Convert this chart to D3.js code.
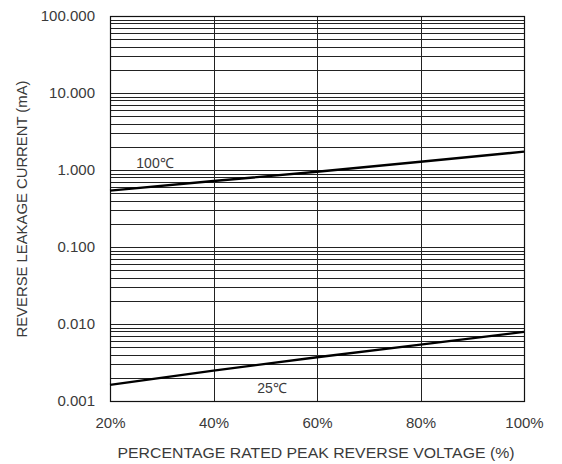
<!DOCTYPE html>
<html><head><meta charset="utf-8">
<script src="https://cdn.jsdelivr.net/npm/d3@7"></script>
<style>body{margin:0;background:#fff}svg{display:block}text{font-family:"Liberation Sans",Arial,sans-serif;fill:#3a3a3a}</style>
</head><body><svg id="c" width="562" height="464"></svg>
<script>
const xTicks = [20, 40, 60, 80, 100];
const xTickLabels = ["20%", "40%", "60%", "80%", "100%"];
const yTicks = [0.001, 0.01, 0.1, 1, 10, 100];
const yTickLabels = ["0.001", "0.010", "0.100", "1.000", "10.000", "100.000"];
const voltage = [20, 40, 60, 80, 100];
const current100C = [0.54, 0.72, 0.95, 1.28, 1.73];
const current25C = [0.00162, 0.00248, 0.0037, 0.0054, 0.0079];
const seriesLabels = ["100℃", "25℃"];
const xTitle = "PERCENTAGE RATED PEAK REVERSE VOLTAGE (%)";
const yTitle = "REVERSE LEAKAGE CURRENT (mA)";

const m = {l:110, r:38, t:16, b:63};
const W = 562, H = 464;
const svg = d3.select("#c");
const x = d3.scaleLinear().domain([20,100]).range([m.l, W-m.r]);
const y = d3.scaleLog().domain([0.001,100]).range([H-m.b, m.t]);

const g = svg.append("g");
const hLines = [];
for (let e=-3; e<2; e++) for (let k=1; k<=9; k++) hLines.push(k*Math.pow(10,e));
hLines.push(100);
g.selectAll(".h").data(hLines).join("line")
  .attr("x1", x(20)).attr("x2", x(100))
  .attr("y1", d=>Math.round(y(d))+0.5).attr("y2", d=>Math.round(y(d))+0.5)
  .attr("stroke","#222").attr("stroke-width",1);
g.selectAll(".v").data(xTicks).join("line")
  .attr("x1", d=>Math.round(x(d))+0.5).attr("x2", d=>Math.round(x(d))+0.5)
  .attr("y1", y(100)).attr("y2", y(0.001))
  .attr("stroke","#222").attr("stroke-width",1);
g.append("rect").attr("x",Math.round(x(20))+0.5).attr("y",Math.round(y(100))+0.5)
  .attr("width",Math.round(x(100))-Math.round(x(20))).attr("height",Math.round(y(0.001))-Math.round(y(100)))
  .attr("fill","none").attr("stroke","#111").attr("stroke-width",1.2);

const yAxis = d3.axisLeft(y).tickValues(yTicks).tickFormat((d,i)=>yTickLabels[i]).tickSize(0).tickPadding(15);
const ya = svg.append("g").attr("transform",`translate(${m.l},0)`).call(yAxis);
ya.select(".domain").remove();
ya.selectAll("text").style("font-size","15px").attr("fill","#3a3a3a").attr("font-family",null);
const xAxis = d3.axisBottom(x).tickValues(xTicks).tickFormat((d,i)=>xTickLabels[i]).tickSize(0).tickPadding(16);
const xa = svg.append("g").attr("transform",`translate(0,${H-m.b})`).call(xAxis);
xa.select(".domain").remove();
xa.selectAll("text").style("font-size","15px").attr("fill","#3a3a3a").attr("font-family",null);

svg.append("text").attr("x",316).attr("y",458).attr("text-anchor","middle")
  .attr("textLength",397).attr("lengthAdjust","spacingAndGlyphs")
  .style("font-size","15px").text(xTitle);
svg.append("text").attr("transform","translate(27,209) rotate(-90)").attr("text-anchor","middle")
  .attr("textLength",257).attr("lengthAdjust","spacingAndGlyphs")
  .style("font-size","14.5px").text(yTitle);

const line = d3.line().x((d,i)=>x(voltage[i])).y(d=>y(d));
[current100C, current25C].forEach(s=>{
  svg.append("path").datum(s).attr("d",line).attr("fill","none")
    .attr("stroke","#000").attr("stroke-width",2.4);
});
svg.append("text").attr("x",155).attr("y",168).attr("text-anchor","middle")
  .style("font-size","14px").text(seriesLabels[0]);
svg.append("text").attr("x",272).attr("y",393).attr("text-anchor","middle")
  .style("font-size","14px").text(seriesLabels[1]);
</script></body></html>
